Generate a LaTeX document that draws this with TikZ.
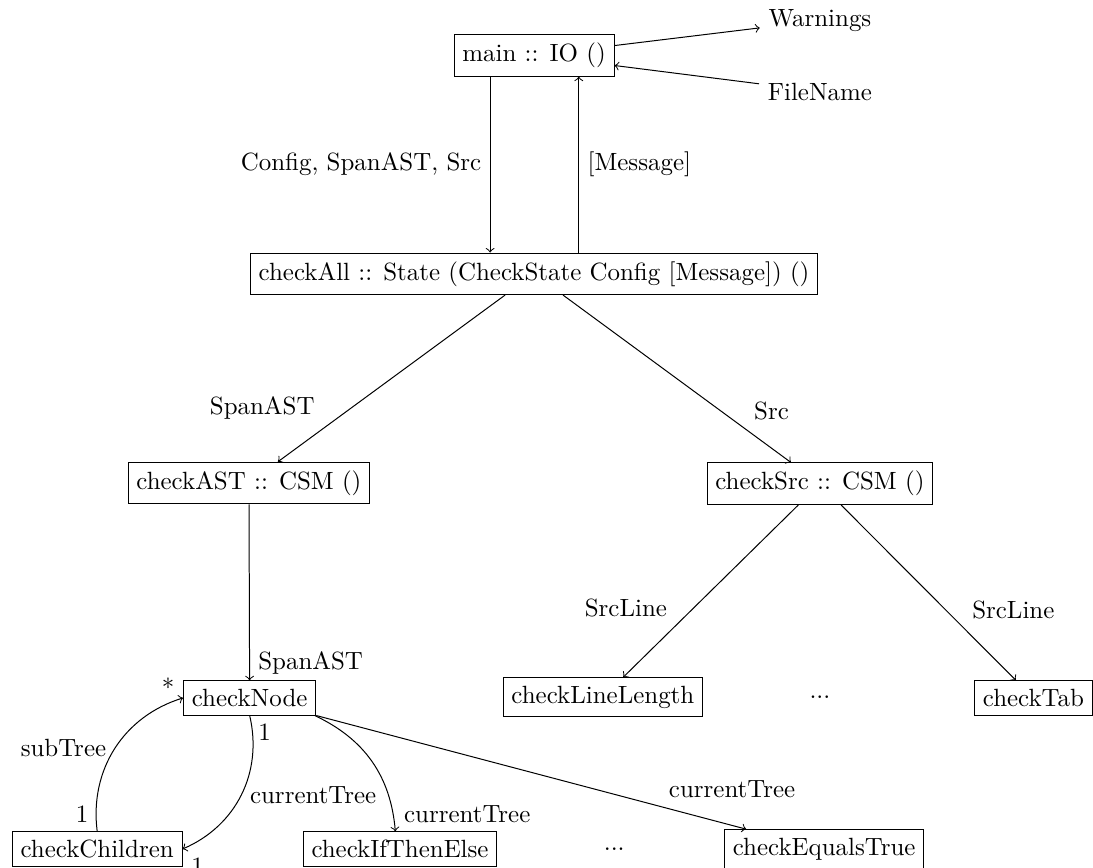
\documentclass[tikz,border=0pt]{standalone}
\begin{document}
\begin{tikzpicture}[box/.style={draw, rectangle}]
    \useasboundingbox (-7.53,-11.45) rectangle (7.88,0.78);
    % Top: main with its input and output
    \node[box] (main) at (0,0) {main :: IO ()};
    \node (warn) at (4.03,0.49) {Warnings};
    \node (fname) at (4.03,-0.51) {FileName};
    \draw[->] (main) -- (warn);
    \draw[->] (fname) -- (main);
    % checkAll below main
    \node[box] (all) at (0,-3.08) {checkAll :: State (CheckState Config [Message]) ()};
    \draw[->] ([xshift=-0.62cm]main.south) -- node[left] (lcfg) {Config, SpanAST, Src} ([xshift=-0.62cm]all.north);
    \draw[->] ([xshift=0.63cm]all.north) -- node[right] (lmsg) {[Message]} ([xshift=0.63cm]main.south);
    % AST and source checks
    \node[box] (ast) at (-4.02,-6.03) {checkAST :: CSM ()};
    \node[box] (src) at (4.03,-6.04) {checkSrc :: CSM ()};
    \draw[->] (all) -- node[pos=0.8, above left] (last) {SpanAST} (ast);
    \draw[->] (all) -- node[pos=0.8, above right] (lsrc) {Src} (src);
    % line checks
    \node[box] (len) at (0.97,-9.05) {checkLineLength};
    \node (dotsa) at (4.03,-9.05) {...};
    \node[box] (tab) at (7.04,-9.06) {checkTab};
    \draw[->] (src) -- node[pos=0.7, above left] (llinea) {SrcLine} (len);
    \draw[->] (src) -- node[pos=0.7, above right] (llineb) {SrcLine} (tab);
    % node checks
    \node[box] (cnode) at (-4.01,-9.06) {checkNode};
    \draw[->] (ast) -- node[pos=0.9, right] (lspan) {SpanAST} (cnode);
    \node[box] (children) at (-6.16,-11.19) {checkChildren};
    \node[box] (ite) at (-1.89,-11.19) {checkIfThenElse};
    \node (dotsb) at (1.13,-11.19) {...};
    \node[box] (eqtrue) at (4.09,-11.19) {checkEqualsTrue};
    \draw[->] (children.north) to[bend left=40]
        node[midway, left] (lsub) {subTree}
        node[pos=0, above left] (lonea) {1}
        node[pos=1, above left] (lstar) {$*$} (cnode.west);
    \draw[->] (cnode.south) to[bend left=40]
        node[midway, right] (lcura) {currentTree}
        node[pos=0, below right] (loneb) {1}
        node[pos=1, below right] (lonec) {1} (children.east);
    \draw[->] (cnode) to[bend left] node[pos=1, above right] (lcurb) {currentTree} (ite);
    \draw[->] (cnode.south east) -- node[pos=0.8, above right] (lcurc) {currentTree} ([xshift=-1.1cm]eqtrue.north);
\end{tikzpicture}
\end{document}
